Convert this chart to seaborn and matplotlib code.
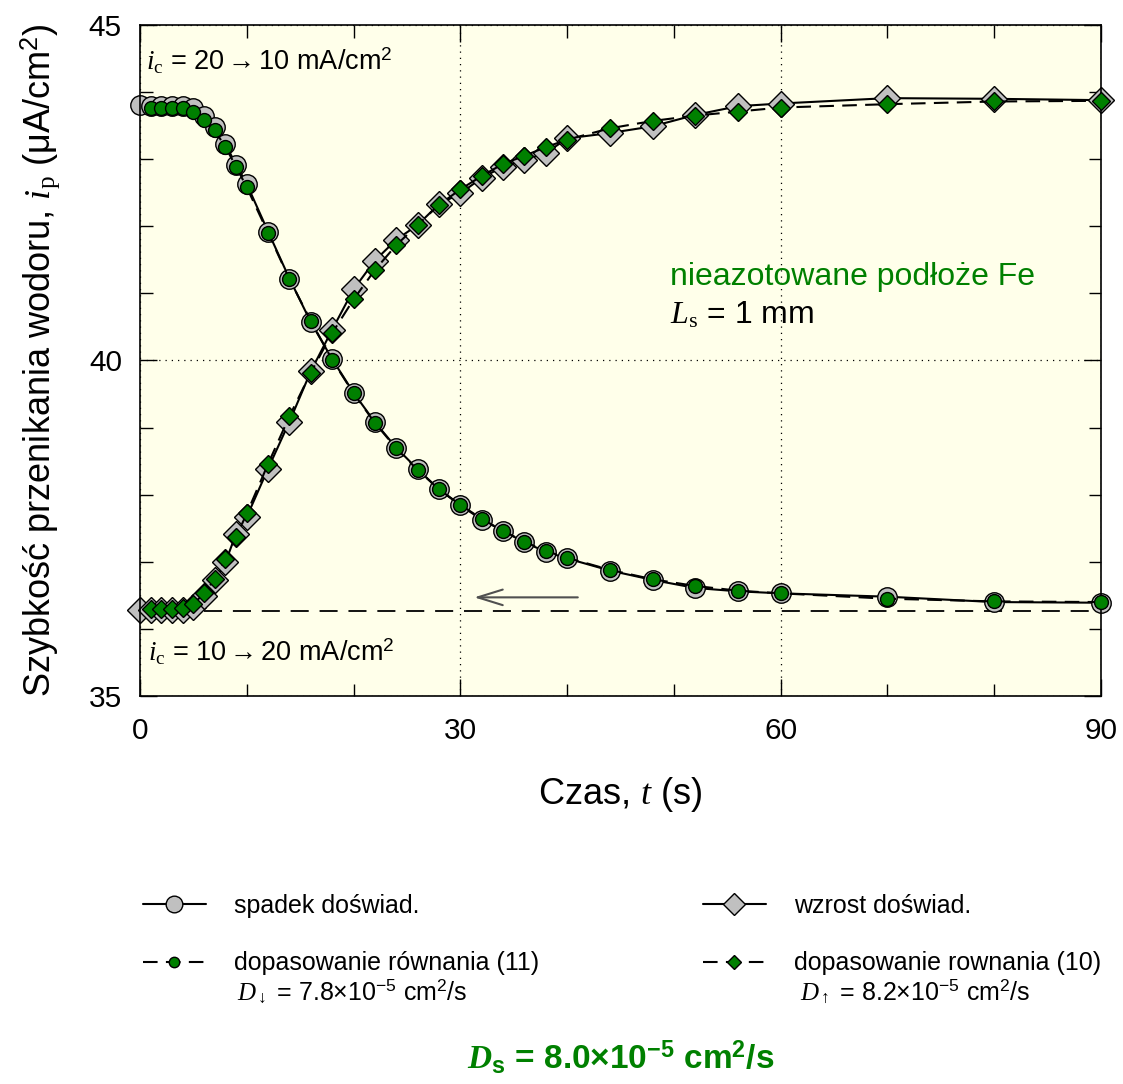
import matplotlib
matplotlib.use("Agg")
import matplotlib.pyplot as plt
import seaborn as sns
from matplotlib.lines import Line2D
from matplotlib.ticker import MultipleLocator

# ---------------- data ----------------
t_exp = [0, 1, 2, 3, 4, 5, 6, 7, 8, 9, 10, 12, 14, 16, 18, 20, 22, 24, 26, 28, 30,
         32, 34, 36, 38, 40, 44, 48, 52, 56, 60, 70, 80, 90]
t_fit = t_exp[1:]

ip_spadek_exp = [43.81, 43.80, 43.80, 43.80, 43.79, 43.77, 43.64, 43.48, 43.22, 42.92,
                 42.63, 41.92, 41.22, 40.57, 40.02, 39.52, 39.08, 38.70, 38.38, 38.08,
                 37.84, 37.63, 37.46, 37.29, 37.15, 37.05, 36.87, 36.73, 36.61, 36.56,
                 36.53, 36.48, 36.40, 36.39]
ip_spadek_fit = [43.77, 43.77, 43.77, 43.76, 43.71, 43.59, 43.43, 43.18, 42.89, 42.58,
                 41.90, 41.21, 40.59, 40.01, 39.51, 39.07, 38.69, 38.37, 38.08, 37.85,
                 37.64, 37.46, 37.30, 37.16, 37.06, 36.88, 36.74, 36.64, 36.57, 36.53,
                 36.45, 36.41, 36.40]
ip_wzrost_exp = [36.28, 36.28, 36.28, 36.28, 36.28, 36.33, 36.49, 36.73, 36.99, 37.42,
                 37.67, 38.39, 39.09, 39.84, 40.46, 41.06, 41.49, 41.80, 42.02, 42.33,
                 42.49, 42.72, 42.89, 42.99, 43.09, 43.31, 43.39, 43.49, 43.66, 43.79,
                 43.83, 43.91, 43.90, 43.88]
ip_wzrost_fit = [36.29, 36.29, 36.29, 36.31, 36.37, 36.53, 36.74, 37.04, 37.37, 37.72,
                 38.46, 39.17, 39.82, 40.41, 40.91, 41.35, 41.72, 42.02, 42.32, 42.55,
                 42.75, 42.93, 43.05, 43.18, 43.29, 43.46, 43.57, 43.65, 43.71, 43.77,
                 43.82, 43.86, 43.87]

baseline_level = 36.27
baseline_t = [6, 90]
arrow_level = 36.47
arrow_from_t = 41.0
arrow_to_t = 31.3

xlim = (0, 90)
ylim = (35, 45)

legend_labels = ["spadek doświad.", "dopasowanie równania (11)",
                 "wzrost doświad.", "dopasowanie rownania (10)"]

# ---------------- style ----------------
sns.set_style("ticks")
plt.rcParams["font.family"] = ["Liberation Sans", "DejaVu Sans"]
plt.rcParams.update({
    "mathtext.fontset": "custom",
    "mathtext.rm": "Liberation Serif",
    "mathtext.it": "Liberation Serif:italic",
    "mathtext.bf": "Liberation Sans:bold",
    "mathtext.sf": "Liberation Sans",
    "mathtext.bfit": "Liberation Serif:italic:bold",
    "text.color": "black",
    "axes.labelcolor": "black",
    "xtick.color": "black",
    "ytick.color": "black",
})

GRAY = "#C0C0C0"
GREEN = "#008000"
BG = "#FFFFEA"

fig = plt.figure(figsize=(11.23, 10.84), dpi=100)
ax = fig.add_axes([140 / 1123, 1 - 696 / 1084, 961 / 1123, 671 / 1084])
ax.set_facecolor(BG)

dash = (0, (7, 4))

sns.lineplot(x=t_exp, y=ip_spadek_exp, ax=ax, color="black", lw=1.5, marker="o",
             markersize=14, markerfacecolor=GRAY, markeredgecolor="black",
             markeredgewidth=1.0, errorbar=None, legend=False, zorder=2, clip_on=False)
sns.lineplot(x=t_exp, y=ip_wzrost_exp, ax=ax, color="black", lw=1.5, marker="D",
             markersize=13.5, markerfacecolor=GRAY, markeredgecolor="black",
             markeredgewidth=1.0, errorbar=None, legend=False, zorder=2, clip_on=False)
sns.lineplot(x=t_fit, y=ip_spadek_fit, ax=ax, color="black", lw=1.5, linestyle=dash,
             marker="o", markersize=10, markerfacecolor=GREEN, markeredgecolor="black",
             markeredgewidth=1.0, errorbar=None, legend=False, zorder=3, clip_on=False)
sns.lineplot(x=t_fit, y=ip_wzrost_fit, ax=ax, color="black", lw=1.5, linestyle=dash,
             marker="D", markersize=9.5, markerfacecolor=GREEN, markeredgecolor="black",
             markeredgewidth=1.0, errorbar=None, legend=False, zorder=3, clip_on=False)

ax.plot(baseline_t, [baseline_level, baseline_level], color="black", lw=1.3,
        linestyle=(0, (10, 6)), zorder=1.5)
ax.annotate("", xy=(arrow_to_t, arrow_level), xytext=(arrow_from_t, arrow_level),
            arrowprops=dict(arrowstyle="->, head_length=0.9, head_width=0.28",
                            color="#505050", lw=1.5, mutation_scale=20,
                            shrinkA=0, shrinkB=0))

ax.set_xlim(*xlim)
ax.set_ylim(*ylim)
ax.xaxis.set_major_locator(MultipleLocator(30))
ax.xaxis.set_minor_locator(MultipleLocator(10))
ax.yaxis.set_major_locator(MultipleLocator(5))
ax.yaxis.set_minor_locator(MultipleLocator(1))
ax.tick_params(which="both", direction="in", top=True, right=True, color="black",
               width=1.0)
ax.tick_params(which="major", length=12, labelsize=21.5)
ax.tick_params(axis="x", which="major", pad=15)
ax.tick_params(axis="y", which="major", pad=13)
ax.tick_params(which="minor", length=9)
ax.grid(True, which="major", linestyle=(0, (1, 4)), color="black", linewidth=0.9)
for s in ax.spines.values():
    s.set_color("black")
    s.set_linewidth(1.2)

ax.set_xlabel("Czas, $t$ (s)", fontsize=26, labelpad=22)
ax.set_ylabel("Szybkość przenikania wodoru, $i_{\\mathrm{p}}$ (μA/cm$^{\\mathsf{2}}$)",
              fontsize=26, labelpad=19)

ax.text(0.006, 0.947, "$i_{\\mathrm{c}}$ = 20$\\rightarrow$10 mA/cm$^{\\mathsf{2}}$",
        transform=ax.transAxes, fontsize=19.5, va="center", ha="left")
ax.text(0.008, 0.065, "$i_{\\mathrm{c}}$ = 10$\\rightarrow$20 mA/cm$^{\\mathsf{2}}$",
        transform=ax.transAxes, fontsize=19.5, va="center", ha="left")
ax.text(0.5515, 0.624, "nieazotowane podłoże Fe", transform=ax.transAxes,
        fontsize=23, color=GREEN, va="center", ha="left")
ax.text(0.5515, 0.568, "$L_{\\mathrm{s}}$ = 1 mm", transform=ax.transAxes,
        fontsize=23, color="black", va="center", ha="left")

# ---------------- legend ----------------
h_spadek_exp = Line2D([], [], color="black", lw=1.5, marker="o", markersize=12,
                      markerfacecolor=GRAY, markeredgecolor="black")
h_spadek_fit = Line2D([], [], color="black", lw=1.5, linestyle=dash, marker="o",
                      markersize=7.5, markerfacecolor=GREEN, markeredgecolor="black")
h_wzrost_exp = Line2D([], [], color="black", lw=1.5, marker="D", markersize=11,
                      markerfacecolor=GRAY, markeredgecolor="black")
h_wzrost_fit = Line2D([], [], color="black", lw=1.5, linestyle=dash, marker="D",
                      markersize=7, markerfacecolor=GREEN, markeredgecolor="black")

leg_kw = dict(loc="upper left", frameon=False, fontsize=18, handlelength=2.5,
              handletextpad=1.15, labelspacing=1.33, borderaxespad=0, borderpad=0)
fig.legend([h_spadek_exp, h_spadek_fit], legend_labels[:2],
           bbox_to_anchor=(143 / 1123, 1 - 894 / 1084), **leg_kw)
fig.legend([h_wzrost_exp, h_wzrost_fit], legend_labels[2:],
           bbox_to_anchor=(703 / 1123, 1 - 894 / 1084), **leg_kw)

fig.text(237 / 1123, 1 - 991 / 1084,
         "$D_{\\downarrow}$ = 7.8×10$^{\\mathsf{-5}}$ cm$^{\\mathsf{2}}$/s",
         fontsize=18, va="center", ha="left")
fig.text(800 / 1123, 1 - 991 / 1084,
         "$D_{\\uparrow}$ = 8.2×10$^{\\mathsf{-5}}$ cm$^{\\mathsf{2}}$/s",
         fontsize=18, va="center", ha="left")
fig.text(621 / 1123, 1 - 1057 / 1084,
         "$\\mathbfit{D}_{\\mathbf{s}}$ = 8.0×10$^{\\mathbf{-5}}$ cm$^{\\mathbf{2}}$/s",
         fontsize=24, fontweight="bold", color=GREEN, va="center", ha="center")

fig.savefig("out.png", dpi=100, facecolor="white")
